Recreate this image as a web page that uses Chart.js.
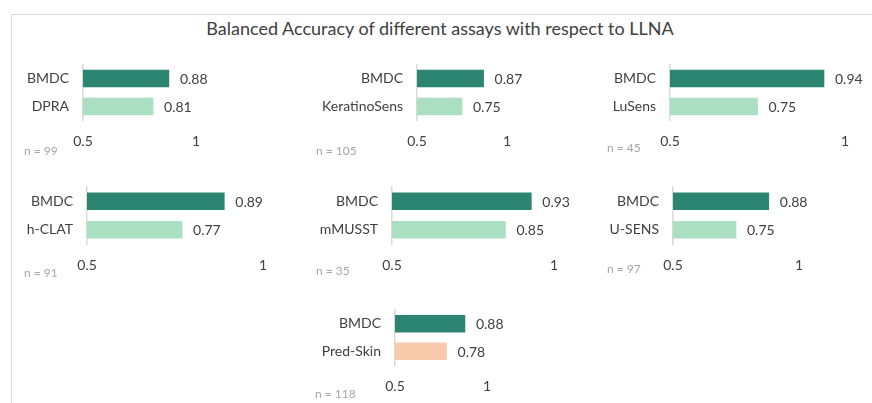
<!DOCTYPE html>
<html>
<head>
<meta charset="utf-8">
<script src="https://cdn.jsdelivr.net/npm/chart.js@4.4.0/dist/chart.umd.min.js"></script>
<style>
  html, body { margin: 0; padding: 0; background: #fff; }
  body { width: 872px; height: 403px; position: relative; overflow: hidden; font-family: Lato, sans-serif; }
  #frame { position: absolute; left: 11px; top: 14px; width: 900px; height: 450px; border: 1px solid #d9d9d9; }
  #title { position: absolute; left: 0; width: 880px; top: 17px; text-align: center; font-size: 18px; color: #404040; }
  canvas { position: absolute; }
</style>
</head>
<body>
<div id="frame"></div>
<div id="title">Balanced Accuracy of different assays with respect to LLNA</div>

<script>
'use strict';

////////// DATA //////////
let assays = ['DPRA', 'KeratinoSens', 'LuSens', 'h-CLAT', 'mMUSST', 'U-SENS', 'Pred-Skin'];
let bmdcValues = [0.88, 0.87, 0.94, 0.89, 0.93, 0.88, 0.88];
let assayValues = [0.81, 0.75, 0.75, 0.77, 0.85, 0.75, 0.78];
let sampleSizes = [99, 105, 45, 91, 35, 97, 118];
let xTicks = [0.5, 1];

let darkGreen = '#2b8570';
let lightGreen = '#abdfc1';
let peach = '#f8cbad';
let textGrey = '#404040';

////////// LAYOUT (page px) //////////
// canvas box + where the 0.5 / 1 ticks and the plot top/bottom land
let panels = [
  {L: 20,  T: 55,  W: 280, H: 105, x0: 83,  x1: 196, yT: 64.5, yB: 120.5, nY: 96},
  {L: 312, T: 55,  W: 275, H: 105, x0: 417, x1: 507, yT: 64.5, yB: 120.5, nY: 96},
  {L: 603, T: 55,  W: 267, H: 105, x0: 670, x1: 845, yT: 64.5, yB: 120.5, nY: 93},
  {L: 20,  T: 175, W: 280, H: 105, x0: 87,  x1: 263, yT: 187,  yB: 244,   nY: 98},
  {L: 312, T: 175, W: 275, H: 105, x0: 392, x1: 554, yT: 187,  yB: 244,   nY: 96},
  {L: 603, T: 175, W: 267, H: 105, x0: 673, x1: 799, yT: 187,  yB: 244,   nY: 94},
  {L: 311, T: 298, W: 280, H: 103, x0: 395, x1: 487, yT: 310,  yB: 365,   nY: 96}
];

////////// PLUGIN //////////
let labelPlugin = {
  id: 'labels',
  afterDatasetsDraw(chart, args, opts) {
    let ctx = chart.ctx;
    let meta = chart.getDatasetMeta(0);
    ctx.save();
    ctx.font = '14px Lato';
    ctx.fillStyle = textGrey;
    ctx.textBaseline = 'middle';
    ctx.textAlign = 'left';
    meta.data.forEach(function (bar, i) {
      let v = chart.data.datasets[0].data[i];
      ctx.fillText(v.toFixed(2), bar.x + 11, bar.y + 1);
    });
    // sample size note, bottom left
    ctx.font = '12px Lato';
    ctx.fillStyle = '#a6a6a6';
    ctx.fillText('n = ' + opts.n, 4, opts.nY);
    ctx.restore();
  }
};

function makePanel(i) {
  let p = panels[i];
  let canvas = document.createElement('canvas');
  canvas.style.left = p.L + 'px';
  canvas.style.top = p.T + 'px';
  canvas.style.width = p.W + 'px';
  canvas.style.height = p.H + 'px';
  canvas.width = p.W;
  canvas.height = p.H;
  document.body.appendChild(canvas);

  let assayColor = assays[i] === 'Pred-Skin' ? peach : lightGreen;

  new Chart(canvas, {
    type: 'bar',
    data: {
      labels: ['BMDC', assays[i]],
      datasets: [{
        data: [bmdcValues[i], assayValues[i]],
        backgroundColor: [darkGreen, assayColor],
        barThickness: 17
      }]
    },
    plugins: [labelPlugin],
    options: {
      indexAxis: 'y',
      responsive: false,
      animation: false,
      events: [],
      layout: {
        padding: {left: 0, top: p.yT - p.T, right: p.L + p.W - p.x1, bottom: 0}
      },
      plugins: {
        legend: {display: false},
        tooltip: {enabled: false},
        labels: {n: sampleSizes[i], nY: p.nY}
      },
      scales: {
        x: {
          min: xTicks[0],
          max: xTicks[xTicks.length - 1],
          afterBuildTicks: function (scale) {
            scale.ticks = xTicks.map(function (v) { return {value: v}; });
          },
          ticks: {
            padding: 13,
            color: textGrey,
            font: {family: 'Lato', size: 14},
            maxRotation: 0,
            callback: function (v) { return String(v); }
          },
          grid: {display: false, drawTicks: false},
          border: {display: false},
          afterFit: function (scale) {
            scale.height = p.T + p.H - p.yB;
            scale.paddingLeft = 0;
            scale.paddingRight = 0;
          }
        },
        y: {
          ticks: {
            padding: 14,
            color: textGrey,
            font: {family: 'Lato', size: 14}
          },
          grid: {display: false, drawTicks: false},
          border: {display: true, color: '#d9d9d9', width: 1.5},
          afterFit: function (scale) {
            scale.width = p.x0 - p.L;
            scale.paddingTop = 0;
            scale.paddingBottom = 0;
          }
        }
      }
    }
  });
}

for (let i = 0; i < panels.length; i++) {
  makePanel(i);
}
</script>
</body>
</html>
